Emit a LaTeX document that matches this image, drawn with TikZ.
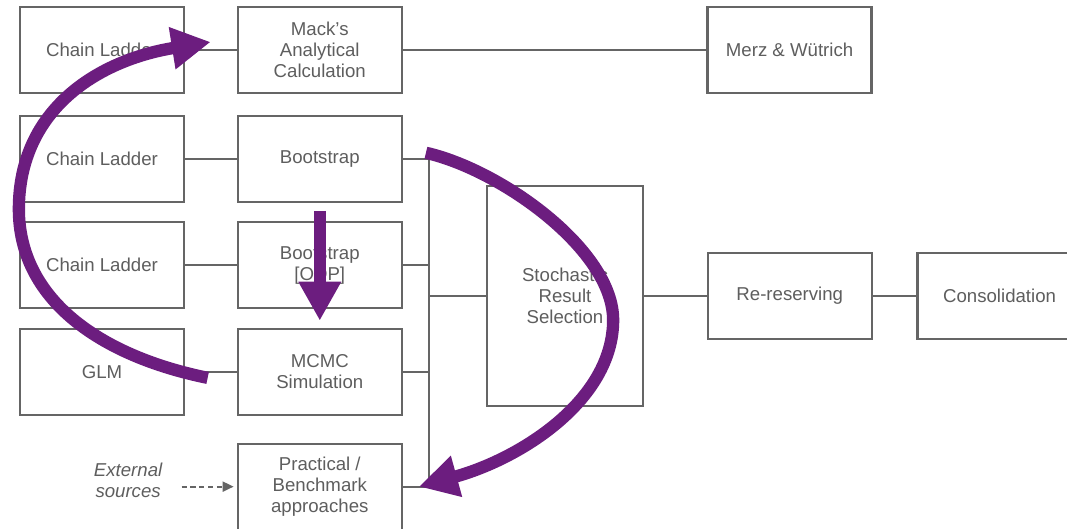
\documentclass[tikz,border=0pt]{standalone}
\usepackage{fontspec}
\setmainfont{Liberation Sans}
\usetikzlibrary{
  arrows.meta,
  calc,
  positioning
}
\definecolor{frame}{HTML}{656565}
\definecolor{textgrey}{HTML}{5E5E5E}
\definecolor{plum}{HTML}{6C1D7F}
\tikzset{
  method/.style={
    draw=frame,
    fill=white,
    line width=1.3pt,
    text=textgrey,
    minimum width=3.28cm,
    minimum height=1.72cm,
    inner sep=1pt,
    align=center,
    font=\fontsize{10.6}{12}\selectfont
  },
  joint/.style={
    draw=frame,
    line width=1.2pt
  },
  swing/.style={
    -{Triangle[length=7.8mm,width=8mm]},
    line width=7pt,
    draw=plum
  },
  feed/.style={
    -{Triangle[length=2.2mm,width=2mm]},
    draw=frame,
    line width=1.1pt,
    dash pattern=on 3pt off 2pt
  }
}

\begin{document}
\begin{tikzpicture}[node distance=3.6mm and 10.3mm]
  \useasboundingbox (0,0) rectangle (21.34,-10.56);

  % left two columns
  \node[method] (cla) at (2.04,-1.0) {Chain Ladder};
  \node[method, right=of cla] (mack) {Mack's\\Analytical\\Calculation};
  \node[method, right=60.7mm of mack] (merz) {Merz \& Wütrich};
  \node[method, below=4.1mm of cla] (clb) {Chain Ladder};
  \node[method, right=of clb] (boot) {Bootstrap};
  \node[method, below=of clb] (clc) {Chain Ladder};
  \node[method, right=of clc] (odp) {Bootstrap\\{[ODP]}};
  \node[method, below=3.7mm of clc] (glm) {GLM};
  \node[method, right=of glm] (mcmc) {MCMC\\Simulation};
  \node[method, below=5.3mm of mcmc] (prac) {Practical /\\Benchmark\\approaches};
  \node[left=14.8mm of prac, yshift=1.2mm, inner sep=0pt, align=center,
    text=textgrey, font=\itshape\fontsize{10.6}{12}\selectfont] (ext)
    {External\\sources};

  % selection and onwards
  \node[method, minimum width=3.12cm, minimum height=4.4cm] (srs) at (11.3,-5.92)
    {Stochastic\\Result\\Selection};
  \node[method, right=12.5mm of srs] (rer) {Re-reserving};
  \node[method, right=8.7mm of rer] (cons) {Consolidation};

  \coordinate (bustop) at ($(boot.east)+(0.52,0)$);
  \coordinate (busbot) at ($(prac.east)+(0.52,0)$);

  \draw[joint] (cla) -- (mack);
  \draw[joint] (mack) -- (merz);
  \draw[joint] (clb) -- (boot);
  \draw[joint] (clc) -- (odp);
  \draw[joint] (glm) -- (mcmc);
  \draw[joint] (boot.east) -- (bustop) -- (busbot) -- (prac.east);
  \draw[joint] (odp.east) -- (odp.east -| bustop);
  \draw[joint] (mcmc.east) -- (mcmc.east -| bustop);
  \draw[joint] (srs.west -| bustop) -- (srs.west);
  \draw[joint] (srs) -- (rer);
  \draw[joint] (rer) -- (cons);
  \draw[feed, shorten <=3.8mm, shorten >=0.6mm] (ext.east |- prac.west) -- (prac.west);

  % purple loops
  \coordinate (lstart) at ($(mcmc.west)+(-0.58,-0.12)$);
  \coordinate (lmid) at ($(clc.west)+(0,1.12)$);
  \coordinate (lend) at ($(mack.west)+(-0.52,0.16)$);
  \coordinate (rstart) at ($(boot.east)+(0.46,0.12)$);
  \coordinate (rmid) at ($(srs.east)+(-0.62,-0.48)$);
  \coordinate (rend) at ($(prac.east)+(0.32,0)$);

  \draw[swing, shorten <=1.6mm, shorten >=1.4mm] (boot.south) -- (mcmc.north);
  \draw[swing] (lstart) .. controls +(-2.16,0.44) and +(0,-1.8) .. (lmid)
    .. controls +(0,2.0) and +(-2.24,-0.36) .. (lend);
  \draw[swing] (rstart) .. controls +(1.5,-0.34) and +(0,1.4) .. (rmid)
    .. controls +(0,-1.6) and +(2.04,0.56) .. (rend);
\end{tikzpicture}
\end{document}
